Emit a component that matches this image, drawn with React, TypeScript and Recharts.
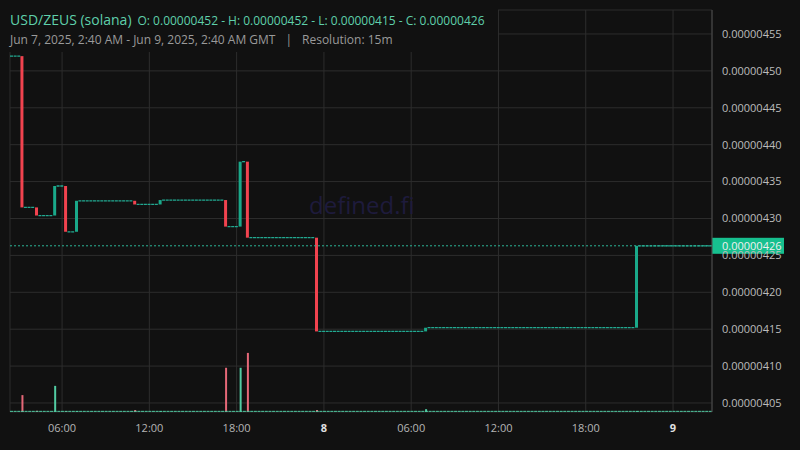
import React from 'react';
import { ComposedChart, Bar, XAxis, YAxis, CartesianGrid, ReferenceLine, Cell } from 'recharts';

// time in hours since Jun 7, 2025 00:00 GMT; prices in units of 1e-8
const candleTimes = [3.25, 4.25, 5.5, 6.25, 7.0, 11.0, 12.75, 17.25, 18.25, 18.75, 23.5, 31.0, 45.5];
const candleOpen = [452, 431.5, 430.4, 434.4, 428.2, 432.4, 431.9, 432.5, 428.9, 437.7, 427.4, 414.7, 415.2];
const candleClose = [431.5, 430.4, 434.4, 428.2, 432.4, 431.9, 432.5, 428.9, 437.7, 427.4, 414.7, 415.2, 426.3];
const candleVolume = [42, 3, 65, 2, 2, 5, 2, 110, 110, 147, 5, 7, 2];
const startPrice = 452;
const lastPrice = 426.3;
const baseVolume = 1.6;

const priceTicks = [405, 410, 415, 420, 425, 430, 435, 440, 445, 450, 455];
const timeTicks = [6, 12, 18, 24, 30, 36, 42, 48];
const timeLabels = ['06:00', '12:00', '18:00', '8', '06:00', '12:00', '18:00', '9'];
const boldLabels = ['8', '9'];

const timeDomain: [number, number] = [2.42, 50.68];
const priceDomain: [number, number] = [403.78, 458.25];
const volumeDomain: [number, number] = [0, 1000];
const halfCandle = 0.125;

const UP = '#1aa98a';
const DOWN = '#f1434f';
const UP_VOL = '#52cca3';
const DOWN_VOL = '#e56878';
const FLAT = '#22a991';

const rows = candleTimes.map((t, i) => ({
  t,
  body: [Math.min(candleOpen[i], candleClose[i]), Math.max(candleOpen[i], candleClose[i])],
  vol: candleVolume[i],
  up: candleClose[i] >= candleOpen[i],
}));

const flats = [
  { x1: timeDomain[0], x2: candleTimes[0] - halfCandle, y: startPrice },
  ...candleTimes.map((t, i) => ({
    x1: t + halfCandle,
    x2: i + 1 < candleTimes.length ? candleTimes[i + 1] - halfCandle : timeDomain[1],
    y: candleClose[i],
  })),
];

const fmtPrice = (v: number) => (v / 1e8).toFixed(8);

const XTick = (props: any) => {
  const { x, y, payload } = props;
  const idx = timeTicks.indexOf(payload.value);
  const label = idx >= 0 ? timeLabels[idx] : '';
  const bold = boldLabels.includes(label);
  return (
    <text
      x={x}
      y={y}
      dy={12}
      textAnchor="middle"
      fill={bold ? '#e0e0e0' : '#b5b5b5'}
      fontSize={11}
      fontWeight={bold ? 700 : 400}
      fontFamily="Open Sans"
    >
      {label}
    </text>
  );
};

const PriceTag = (props: any) => {
  const vb = props.viewBox || {};
  const x = (vb.x ?? 0) + (vb.width ?? 0);
  const y = vb.y ?? 0;
  return (
    <g>
      <rect x={x} y={y - 8} width={72} height={16} fill="#17c08f" />
      <text x={x + 10} y={y + 4} fill="#f0f0f0" fontSize={11} fontFamily="Open Sans">
        {fmtPrice(lastPrice)}
      </text>
    </g>
  );
};

export default function App() {
  return (
    <div
      style={{
        position: 'absolute',
        left: 0,
        top: 0,
        width: 800,
        height: 450,
        background: '#111111',
        fontFamily: 'Open Sans',
        overflow: 'hidden',
      }}
    >
      <ComposedChart
        width={800}
        height={450}
        data={rows}
        margin={{ top: 10, right: 0, bottom: 8, left: 10 }}
      >
        <CartesianGrid xAxisId="p" yAxisId="p" stroke="#2d2d2d" strokeWidth={1} />
        <XAxis
          xAxisId="p"
          dataKey="t"
          type="number"
          domain={timeDomain}
          ticks={timeTicks}
          allowDataOverflow
          axisLine={false}
          tickLine={false}
          height={30}
          tick={<XTick />}
          interval={0}
        />
        <XAxis xAxisId="v" dataKey="t" type="number" domain={timeDomain} ticks={timeTicks} allowDataOverflow hide />
        <YAxis
          yAxisId="p"
          orientation="right"
          type="number"
          domain={priceDomain}
          ticks={priceTicks}
          allowDataOverflow
          width={88}
          axisLine={{ stroke: '#4a4a4a' }}
          tickLine={false}
          tickMargin={4}
          tickFormatter={fmtPrice}
          tick={{ fill: '#bcbcbc', fontSize: 11, fontFamily: 'Open Sans', textAnchor: 'start' }}
          interval={0}
        />
        <YAxis yAxisId="v" type="number" domain={volumeDomain} allowDataOverflow hide />
        <ReferenceLine
          xAxisId="v"
          yAxisId="v"
          y={baseVolume}
          stroke={UP_VOL}
          strokeWidth={1}
          strokeDasharray="3 0.64"
        />
        <Bar xAxisId="v" yAxisId="v" dataKey="vol" barSize={2} isAnimationActive={false}>
          {rows.map((r, i) => (
            <Cell key={i} fill={r.up ? UP_VOL : DOWN_VOL} />
          ))}
        </Bar>
        {flats.map((f, i) => (
          <ReferenceLine
            key={'f' + i}
            xAxisId="p"
            yAxisId="p"
            segment={[
              { x: f.x1, y: f.y },
              { x: f.x2, y: f.y },
            ]}
            stroke={FLAT}
            strokeWidth={1.3}
            strokeDasharray="3 0.64"
            ifOverflow="visible"
          />
        ))}
        <ReferenceLine
          xAxisId="p"
          yAxisId="p"
          y={lastPrice}
          stroke="#2bb597"
          strokeWidth={1}
          strokeDasharray="2 2"
          label={<PriceTag />}
        />
        <Bar xAxisId="p" yAxisId="p" dataKey="body" barSize={3} isAnimationActive={false}>
          {rows.map((r, i) => (
            <Cell key={i} fill={r.up ? UP : DOWN} />
          ))}
        </Bar>
      </ComposedChart>
      <div
        style={{
          position: 'absolute',
          left: 0,
          top: 0,
          width: 498,
          height: 52,
          background: '#111111',
        }}
      />
      <div
        style={{
          position: 'absolute',
          left: 10,
          top: 9,
          lineHeight: '20px',
          whiteSpace: 'nowrap',
          color: '#5fd0ab',
        }}
      >
        <span style={{ fontSize: 14 }}>USD/ZEUS (solana)</span>
        <span style={{ fontSize: 12, marginLeft: 6 }}>
          O: 0.00000452 - H: 0.00000452 - L: 0.00000415 - C: 0.00000426
        </span>
      </div>
      <div
        style={{
          position: 'absolute',
          left: 10,
          top: 32,
          lineHeight: '16px',
          fontSize: 12,
          whiteSpace: 'nowrap',
          color: '#9a9a9a',
        }}
      >
        <span>Jun 7, 2025, 2:40 AM - Jun 9, 2025, 2:40 AM GMT</span>
        <span style={{ margin: '0 10px' }}>|</span>
        <span>Resolution: 15m</span>
      </div>
      <div
        style={{
          position: 'absolute',
          left: 309,
          top: 189,
          fontSize: 24,
          lineHeight: '32px',
          color: '#1e1b3c',
          whiteSpace: 'nowrap',
          pointerEvents: 'none',
        }}
      >
        defined.fi
      </div>
    </div>
  );
}
